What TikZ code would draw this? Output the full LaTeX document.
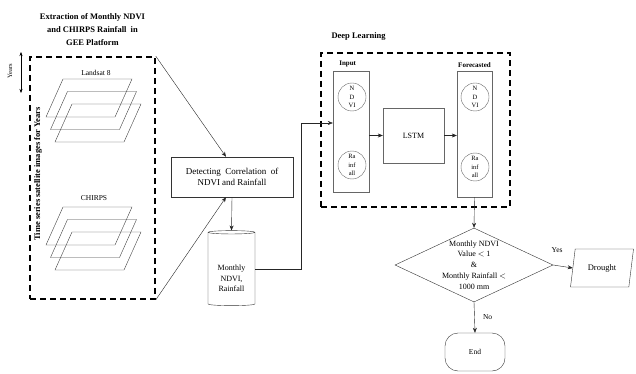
\documentclass[tikz,border=0pt]{standalone}
\usepackage{fontspec}
\setmainfont{Liberation Serif}
\usetikzlibrary{shapes.geometric, arrows.meta, positioning, calc}
\tikzset{
  dbox/.style    = {rectangle, draw=black, line width=1.6pt, dash pattern=on 6pt off 4pt},
  block/.style   = {rectangle, draw=black!80, thin, align=center,
                    font=\fontsize{9}{11.5}\selectfont, inner sep=2pt},
  col/.style     = {rectangle, draw=black!60, thin, minimum width=36pt},
  var/.style     = {circle, draw=black!60, thin, minimum size=28pt, inner sep=0pt,
                    align=center, font=\fontsize{6.5}{8.5}\selectfont},
  sheet/.style   = {draw=black!75, thin},
  decision/.style= {diamond, draw=black!80, thin, minimum width=158pt,
                    minimum height=74pt, inner sep=0pt},
  io/.style      = {trapezium, trapezium left angle=72, trapezium right angle=108,
                    trapezium stretches body, draw=black!80, thin, minimum width=63pt,
                    minimum height=38pt, font=\fontsize{8.5}{10}\selectfont},
  term/.style    = {rectangle, rounded corners=13pt, draw=black!80, thin,
                    minimum width=60pt, minimum height=38pt, font=\fontsize{7.5}{9}\selectfont},
  ttl/.style     = {font=\bfseries\fontsize{8.5}{13}\selectfont, align=center},
  lbl/.style     = {font=\fontsize{7.5}{9}\selectfont, align=center},
  arr/.style     = {-{Stealth[length=5pt,width=4pt]}, thin, draw=black!85}
}

\begin{document}
\begin{tikzpicture}[x=1pt, y=-1pt]
  \useasboundingbox (0,0) rectangle (636,374);

  % extraction part
  \node[dbox, minimum width=125pt, minimum height=242pt] (extr) at (92.5,178) {};
  \node[ttl, above=7pt of extr] (ttlext) {Extraction of Monthly NDVI\\and CHIRPS Rainfall\ \ in\\GEE Platform};
  \node[lbl, rotate=90, font=\bfseries\fontsize{8.5}{9}\selectfont] (tser) at (38,174) {Time series satellite images for Years};
  \coordinate (yrtop) at (21,52);
  \coordinate (yrbot) at (21,93);
  \draw[{Stealth[length=4pt,width=3pt]}-{Stealth[length=4pt,width=3pt]}, thin] (yrtop) -- (yrbot);
  \node[lbl, rotate=90, font=\fontsize{6.5}{8}\selectfont] (yrs) at (10,71) {Years};

  \node[lbl] (lsat) at (96,73) {Landsat 8};
  \node[lbl] (chirps) at (94,198) {CHIRPS};
  \coordinate (ls) at (63,79);
  \coordinate (ch) at (63,207);
  \foreach \dx/\dy in {0/0, 4.5/12.5, 9/25} {
    \draw[sheet] ($(ls)+(\dx,\dy)$) -- ++(69,0) -- ++(-17,38) -- ++(-69,0) -- cycle;
    \draw[sheet] ($(ch)+(\dx,\dy)$) -- ++(69,0) -- ++(-17,38) -- ++(-69,0) -- cycle;
  }

  % correlation and database
  \node[block, minimum width=122pt, minimum height=40pt] (det) at (232,177)
    {Detecting\ \ Correlation\ \ of\\NDVI and Rainfall};
  \node[cylinder, shape border rotate=90, aspect=0.5, draw=black!80, thin,
        minimum height=75pt, minimum width=47pt] (db) at (231.5,269.5) {};
  \node[lbl, font=\fontsize{8}{10.5}\selectfont] (dbtxt) at ([yshift=-9pt]db.center) {Monthly\\NDVI,\\Rainfall};

  % deep learning
  \node[dbox, minimum width=189pt, minimum height=154pt] (dl) at (415.5,130) {};
  \node[ttl, anchor=south west] (ttldl) at (328,44) {Deep Learning};
  \node[col, minimum height=121pt] (inp) at (351,131.5) {};
  \node[col, minimum width=35pt, minimum height=126pt] (fc) at (474.5,134) {};
  \node[ttl, font=\bfseries\fontsize{7}{9}\selectfont, anchor=south west] (inptl) at ([xshift=3pt]inp.north west) {Input};
  \node[ttl, font=\bfseries\fontsize{7}{9}\selectfont, above=0pt of fc] (fctl) {Forecasted};
  \node[var] (inndvi) at (352,97) {N\\D\\VI};
  \node[var] (inrain) at (352,165) {Ra\\inf\\all};
  \node[var] (fcndvi) at (475,97) {N\\D\\VI};
  \node[var] (fcrain) at (475,167) {Ra\\inf\\all};
  \node[block, draw=black!60, minimum width=61pt, minimum height=55pt,
        font=\fontsize{8}{9}\selectfont] (lstm) at (413.5,135.5) {LSTM};

  % decision
  \node[decision] (dec) at (474,265) {};
  \node[lbl, font=\fontsize{8}{10.8}\selectfont] (dectxt) at (dec) {Monthly NDVI\\Value $<$ 1\\\&\\Monthly Rainfall $<$\\1000 mm};
  \node[io] (drought) at (602,268) {Drought};
  \node[term] (finish) at (475,352) {End};

  % connectors
  \coordinate (corner) at (301,123);
  \draw[arr] (extr.north east) -- ([xshift=-6pt]det.north);
  \draw[arr] (extr.south east) -- ([xshift=-6pt]det.south);
  \draw[arr] (det.south) -- (db.north);
  \draw[arr] (db.east) -| (corner) -- (corner -| inp.west);
  \draw[arr] (inp.east |- lstm.west) -- (lstm.west);
  \draw[arr] (lstm.east) -- (fc.west |- lstm.east);
  \draw[arr] (fc.south) -- (dec.north);
  \draw[arr] (dec.east) -- (drought.west)
    node[pos=0.2, above=9pt, lbl] {Yes};
  \draw[arr] (dec.south) -- (finish.north)
    node[midway, right=5pt, lbl] {No};
\end{tikzpicture}
\end{document}
